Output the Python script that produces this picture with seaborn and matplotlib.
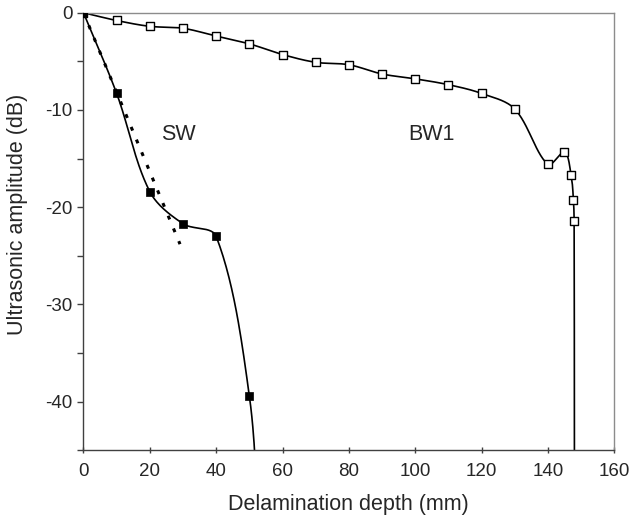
import numpy as np
import pandas as pd
import matplotlib
matplotlib.use("Agg")
import matplotlib.pyplot as plt
import seaborn as sns

# SW signal (filled squares); last point lies below the visible range
sw_depth = [0, 10, 20, 30, 40, 50, 53]
sw_amp = [0, -8.3, -18.4, -21.7, -23.0, -39.4, -55]

# BW1 signal (open squares); last point lies below the visible range
bw_depth = [0, 10, 20, 30, 40, 50, 60, 70, 80, 90, 100, 110, 120, 130,
            140, 145, 147, 147.7, 147.9, 148]
bw_amp = [0, -0.8, -1.4, -1.6, -2.4, -3.2, -4.3, -5.1, -5.35, -6.3, -6.8,
          -7.4, -8.3, -9.9, -15.6, -14.3, -16.7, -19.3, -21.4, -50]

# dotted trend line for the early SW slope
trend_depth = [0, 29.1]
trend_amp = [0, -23.8]

sw_markers = 6   # number of visible SW markers
bw_markers = 19  # number of visible BW1 markers

# pixel scale of the plot area, used only to shape the smoothed curves
px_x, px_y = 3.32, 9.72


def smooth(xs, ys, n=30):
    # Excel-like smoothed line: bezier segments, control points weighted by chord length
    p = np.column_stack([np.array(xs) * px_x, np.array(ys) * px_y]).astype(float)
    p = np.vstack([p[0], p, p[-1]])
    out = []
    t = np.linspace(0, 1, n)[:, None]
    for i in range(1, len(p) - 2):
        p0, p1, p2, p3 = p[i - 1], p[i], p[i + 1], p[i + 2]
        d01 = np.linalg.norm(p1 - p0)
        d12 = np.linalg.norm(p2 - p1)
        d23 = np.linalg.norm(p3 - p2)
        w1 = d12 / (d01 + d12) if d01 + d12 > 0 else 0
        w2 = d12 / (d12 + d23) if d12 + d23 > 0 else 0
        c1 = p1 + (p2 - p0) * w1 / 3
        c2 = p2 - (p3 - p1) * w2 / 3
        seg = ((1 - t) ** 3) * p1 + 3 * ((1 - t) ** 2) * t * c1 + 3 * (1 - t) * t ** 2 * c2 + t ** 3 * p2
        out.append(seg if i == 1 else seg[1:])
    out = np.vstack(out)
    return pd.DataFrame({"x": out[:, 0] / px_x, "y": out[:, 1] / px_y})


sns.set_style("white")
plt.rcParams["font.family"] = ["Liberation Sans", "DejaVu Sans"]
plt.rcParams["axes.unicode_minus"] = False

fig = plt.figure(figsize=(6.3, 5.17), dpi=100)
ax = fig.add_axes([0.1325, 0.129, 0.8425, 0.8464])

bw_line = smooth(bw_depth, bw_amp)
sw_line = smooth(sw_depth, sw_amp)

sns.lineplot(data=bw_line, x="x", y="y", sort=False, estimator=None, color="black", lw=1.2, ax=ax)
sns.lineplot(data=sw_line, x="x", y="y", sort=False, estimator=None, color="black", lw=1.2, ax=ax)
sns.lineplot(x=trend_depth, y=trend_amp, sort=False, estimator=None, color="black", lw=2.2,
             linestyle=(0, (1.3, 3.2)), ax=ax)

sns.scatterplot(x=bw_depth[:bw_markers], y=bw_amp[:bw_markers], marker="s", s=36, color="white",
                edgecolor="black", linewidth=1.0, ax=ax, zorder=3)
sns.scatterplot(x=sw_depth[:sw_markers], y=sw_amp[:sw_markers], marker="s", s=40, color="black",
                edgecolor="black", linewidth=0.5, ax=ax, zorder=4)

ax.text(28.5, -12.5, "SW", fontsize=15.5, ha="center", va="center")
ax.text(105, -12.5, "BW1", fontsize=15.5, ha="center", va="center")

ax.set_xlim(0, 160)
ax.set_ylim(-45, 0)
ax.set_xticks(np.arange(0, 161, 20))
ax.set_yticks(np.arange(-40, 1, 10))
ax.set_yticks(np.arange(-45, 1, 5), minor=True)
ax.tick_params(axis="x", bottom=True, direction="inout", length=4, width=1, labelsize=13.5, pad=7,
               color="#404040")
ax.tick_params(axis="y", which="both", left=True, direction="out", length=4, width=1, labelsize=13.5,
               pad=4, color="#404040")
ax.set_xlabel("Delamination depth (mm)", fontsize=15.5, labelpad=10)
ax.set_ylabel("Ultrasonic amplitude (dB)", fontsize=15.5, labelpad=10)
ax.yaxis.set_label_coords(-0.105, 0.54)

for side in ["left", "bottom"]:
    ax.spines[side].set_color("#404040")
    ax.spines[side].set_linewidth(1.0)
for side in ["top", "right"]:
    ax.spines[side].set_color("#8c8c8c")
    ax.spines[side].set_linewidth(1.0)

fig.savefig("out.png", dpi=100)
